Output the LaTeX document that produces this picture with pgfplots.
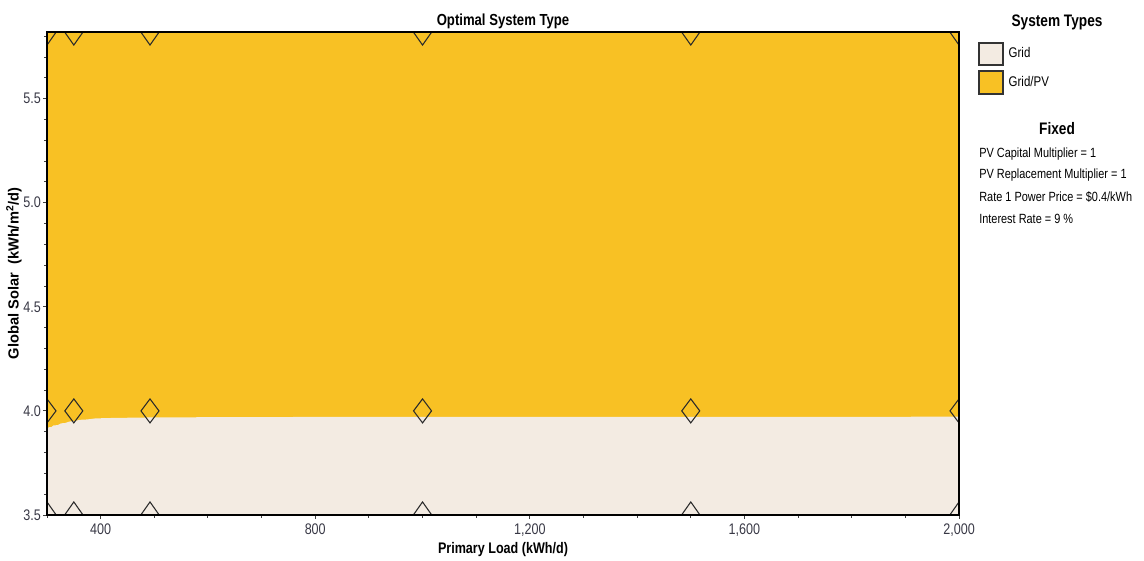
\documentclass[border=0pt]{standalone}
\usepackage{pgfplots}
\pgfplotsset{compat=1.18}
\usepackage{fontspec}
\setmainfont{Liberation Sans}
\newfontfamily\narrow{Liberation Sans}[FakeStretch=0.82]

\definecolor{gridpv}{HTML}{F8C124}
\definecolor{gridonly}{HTML}{F3EBE2}
\definecolor{markline}{HTML}{2A2A2A}
\definecolor{ticktext}{HTML}{383845}

% edge markers: triangles with their base on the axis line
\pgfdeclareplotmark{triup}{%
  \pgfpathmoveto{\pgfqpoint{-6.9pt}{0pt}}%
  \pgfpathlineto{\pgfqpoint{6.9pt}{0pt}}%
  \pgfpathlineto{\pgfqpoint{0pt}{9.8pt}}%
  \pgfpathclose\pgfusepathqstroke}
\pgfdeclareplotmark{tridown}{%
  \pgfpathmoveto{\pgfqpoint{-6.9pt}{0pt}}%
  \pgfpathlineto{\pgfqpoint{6.9pt}{0pt}}%
  \pgfpathlineto{\pgfqpoint{0pt}{-9.8pt}}%
  \pgfpathclose\pgfusepathqstroke}

\begin{document}
\begin{tikzpicture}
\begin{axis}[
  at={(35.25pt,33.75pt)}, anchor=south west,
  scale only axis, width=684pt, height=362.25pt,
  xmin=300, xmax=2000, ymin=3.5, ymax=5.82,
  axis on top,
  axis line style={black, line width=0.9pt},
  xtick={400,800,1200,1600,2000},
  minor xtick={300,500,600,700,900,1000,1100,1300,1400,1500,1700,1800,1900},
  ytick={3.5,4.0,4.5,5.0,5.5},
  minor ytick={3.6,3.7,3.8,3.9,4.1,4.2,4.3,4.4,4.6,4.7,4.8,4.9,5.1,5.2,5.3,5.4,5.6,5.7,5.8},
  tick align=outside,
  xtick pos=bottom, ytick pos=left,
  major tick length=3pt, minor tick length=2pt,
  tick style={black!75, line width=0.7pt},
  /pgf/number format/assume math mode=true,
  xticklabel style={font=\narrow\fontsize{11.5}{13}\selectfont, text=ticktext,
    /pgf/number format/1000 sep={,}},
  yticklabel style={font=\narrow\fontsize{11.5}{13}\selectfont, text=ticktext,
    xshift=2pt,
    /pgf/number format/fixed, /pgf/number format/fixed zerofill,
    /pgf/number format/precision=1},
  title={Optimal System Type},
  title style={font=\narrow\bfseries\fontsize{12}{14}\selectfont, yshift=-7.5pt},
  xlabel={Primary Load (kWh/d)},
  xlabel style={font=\narrow\bfseries\fontsize{11.5}{13}\selectfont, yshift=2pt},
  ylabel={Global Solar\ \ (kWh/m\textsuperscript{2}/d)},
  ylabel style={font=\bfseries\fontsize{11}{13}\selectfont, yshift=-5.5pt},
  clip marker paths=true,
]
% Grid/PV region (optimal everywhere above the boundary)
\addplot[draw=none, fill=gridpv] coordinates {
  (300,3.5) (300,5.82) (2000,5.82) (2000,3.5)} \closedcycle;
% Grid-only region below the boundary
\addplot[draw=none, fill=gridonly] coordinates {
  (300,3.5) (300,3.915) (304,3.922) (308,3.922) (312,3.930) (320,3.932)
  (326,3.940) (334,3.942) (342,3.949) (352,3.951) (360,3.957) (375,3.959)
  (390,3.964) (420,3.966) (500,3.969)
  (800,3.971) (2000,3.972) (2000,3.5)} \closedcycle;
% sensitivity cases
\addplot[only marks, mark=diamond, mark size=9pt,
  mark options={draw=markline, line width=0.8pt, fill=none}] coordinates {
  (300,4.0) (350,4.0) (492,4.0) (1000,4.0) (1500,4.0) (2000,4.0)};
\addplot[only marks, mark=triup,
  mark options={draw=markline, line width=0.8pt}] coordinates {
  (300,3.5) (350,3.5) (492,3.5) (1000,3.5) (1500,3.5) (2000,3.5)};
\addplot[only marks, mark=tridown,
  mark options={draw=markline, line width=0.8pt}] coordinates {
  (300,5.82) (350,5.82) (492,5.82) (1000,5.82) (1500,5.82) (2000,5.82)};
\end{axis}

% legend and fixed-variable panel
\begin{scope}[x=0.75pt, y=0.75pt]
  \node[font=\narrow\bfseries\fontsize{12.5}{14}\selectfont] at (1057,538) {System Types};
  \draw[draw=black!80, line width=1pt, fill=gridonly] (979,517) rectangle (1003,495);
  \node[anchor=west, font=\narrow\fontsize{10.5}{12}\selectfont] at (1004,507) {Grid};
  \draw[draw=black!80, line width=1pt, fill=gridpv] (979,489) rectangle (1003,466);
  \node[anchor=west, font=\narrow\fontsize{10.5}{12}\selectfont] at (1004,478) {Grid/PV};
  \node[font=\narrow\bfseries\fontsize{12.5}{14}\selectfont] at (1057,431) {Fixed};
  \begin{scope}[every node/.style={anchor=west, inner sep=0pt, font=\narrow\fontsize{10}{12}\selectfont}]
    \node at (979,406) {PV Capital Multiplier = 1};
    \node at (979,385) {PV Replacement Multiplier = 1};
    \node at (979,363) {Rate 1 Power Price = \$0.4/kWh};
    \node at (979,341) {Interest Rate = 9 \%};
  \end{scope}
\end{scope}
\pgfresetboundingbox
\useasboundingbox (0,0) rectangle (858pt,420pt);
\end{tikzpicture}
\end{document}
